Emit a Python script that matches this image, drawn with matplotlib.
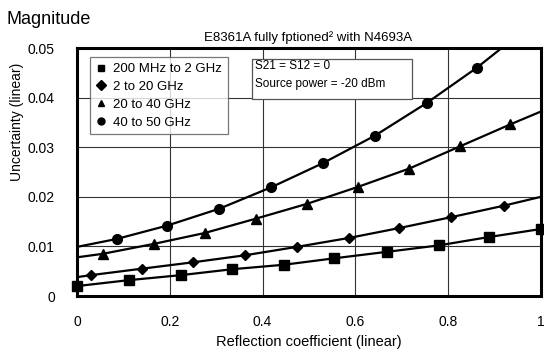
import matplotlib
matplotlib.use("Agg")
import matplotlib.pyplot as plt
from matplotlib.patches import Rectangle

plt.rcParams["font.family"] = ["Liberation Sans", "DejaVu Sans"]

# reflection coefficient / uncertainty
sq_x = [0.0, 0.112, 0.2235, 0.3347, 0.446, 0.5545, 0.6675, 0.7795, 0.8886, 0.9994]
sq_y = [0.0020, 0.0032, 0.0042, 0.0054, 0.0063, 0.0076, 0.0089, 0.0102, 0.0119, 0.0135]

dia_x = [0.0, 0.0295, 0.1394, 0.2506, 0.3614, 0.4735, 0.586, 0.6946, 0.8067, 0.9196, 1.0]
dia_y = [0.0038, 0.0042, 0.0055, 0.0068, 0.0082, 0.0099, 0.0117, 0.0137, 0.0159, 0.0182, 0.0200]

tri_x = [0.0, 0.0554, 0.1653, 0.2752, 0.3858, 0.4964, 0.6056, 0.7162, 0.8261, 0.9338, 1.0]
tri_y = [0.0078, 0.0085, 0.0105, 0.0127, 0.0156, 0.0186, 0.0220, 0.0257, 0.0302, 0.0346, 0.0372]

cir_x = [0.0, 0.0856, 0.1946, 0.3067, 0.4181, 0.5302, 0.6416, 0.7535, 0.8614, 0.918]
cir_y = [0.0099, 0.0115, 0.0142, 0.0176, 0.0219, 0.0268, 0.0323, 0.0389, 0.0460, 0.0502]

labels = ["200 MHz to 2 GHz", "2 to 20 GHz", "20 to 40 GHz", "40 to 50 GHz"]

fig = plt.figure(figsize=(5.44, 3.52), dpi=100)
ax = fig.add_axes([77 / 544, 1 - 296 / 352, 464 / 544, 248 / 352])

ax.plot(sq_x, sq_y, color="black", lw=1.6, marker="s", ms=6.5, clip_on=False,
        zorder=3, label=labels[0])
ax.plot(dia_x, dia_y, color="black", lw=1.6, marker="D", ms=4.8,
        markevery=list(range(1, len(dia_x) - 1)), zorder=3, label=labels[1])
ax.plot(tri_x, tri_y, color="black", lw=1.6, marker="^", ms=7,
        markevery=list(range(1, len(tri_x) - 1)), zorder=3, label=labels[2])
ax.plot(cir_x, cir_y, color="black", lw=1.6, marker="o", ms=7,
        markevery=list(range(1, len(cir_x) - 1)), zorder=3, label=labels[3])

ax.set_xlim(0, 1)
ax.set_ylim(0, 0.05)
ax.set_xticks([0, 0.2, 0.4, 0.6, 0.8, 1])
ax.set_xticklabels(["0", "0.2", "0.4", "0.6", "0.8", "1"])
ax.set_yticks([0, 0.01, 0.02, 0.03, 0.04, 0.05])
ax.set_yticklabels(["0", "0.01", "0.02", "0.03", "0.04", "0.05"])
ax.tick_params(length=0, labelsize=10, pad=16)
ax.tick_params(axis="x", pad=14)
ax.grid(True, color="#333333", lw=0.8)
ax.set_axisbelow(True)
for sp in ax.spines.values():
    sp.set_linewidth(2.2)

fig.text(309 / 544, 1 - 342 / 352, "Reflection coefficient (linear)", fontsize=10.5,
         ha="center", va="center")
fig.text(17 / 544, 1 - 122 / 352, "Uncertainty (linear)", fontsize=10,
         rotation=90, ha="center", va="center")
fig.text(308 / 544, 1 - 38 / 352, "E8361A fully fptioned² with N4693A", fontsize=9.5,
         ha="center", va="center")
fig.text(6 / 544, 1 - 20 / 352, "Magnitude", fontsize=13, va="center")

leg = ax.legend(loc="upper left", bbox_to_anchor=((90 - 77) / 464, (296 - 57) / 248),
                frameon=True, fancybox=False, edgecolor="#555555", fontsize=9.5,
                handlelength=0.8, handletextpad=0.5, borderpad=0.45,
                labelspacing=0.42, borderaxespad=0)
leg.get_frame().set_linewidth(0.9)
for h in leg.get_lines():
    h.set_linestyle("none")
    h.set_markersize(5)

ax.add_patch(Rectangle(((252 - 77) / 464, (296 - 99) / 248), 160 / 464, 40 / 248,
                       transform=ax.transAxes, facecolor="white",
                       edgecolor="#555555", lw=0.9, zorder=4))
ax.text((255 - 77) / 464, (296 - 66) / 248, "S21 = S12 = 0", transform=ax.transAxes,
        fontsize=8.5, va="center", zorder=5)
ax.text((255 - 77) / 464, (296 - 84) / 248, "Source power = -20 dBm",
        transform=ax.transAxes, fontsize=8.5, va="center", zorder=5)

fig.savefig("out.png", dpi=100)
